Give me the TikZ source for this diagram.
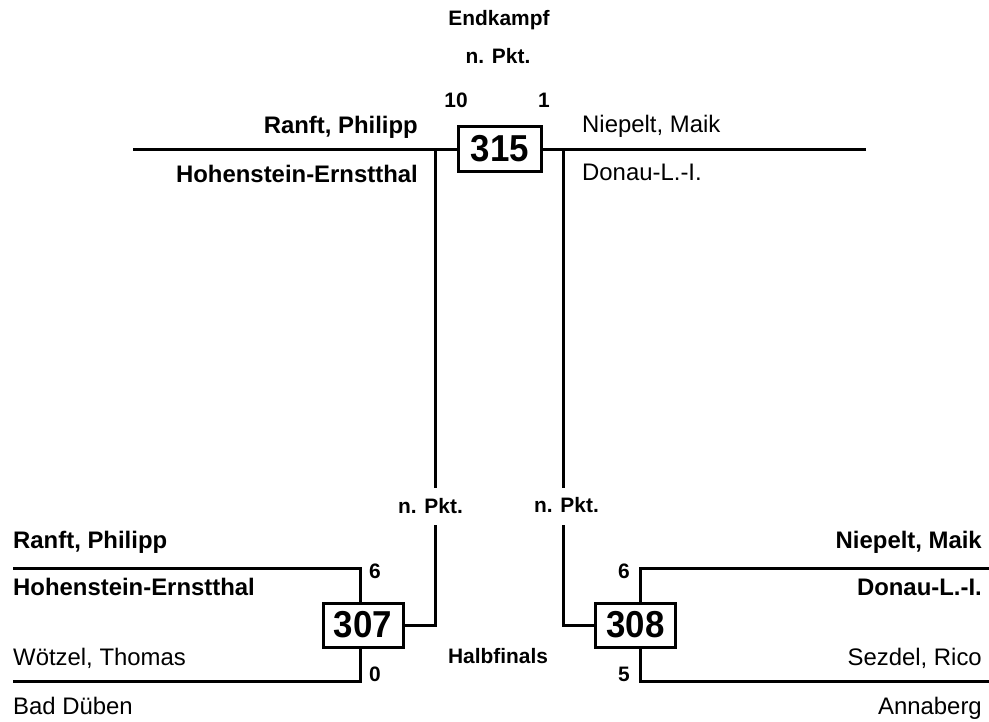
\documentclass[tikz,border=0pt]{standalone}
\usepackage{fontspec}
\setmainfont{Liberation Sans}
\newfontfamily\numfont{Liberation Sans}[FakeStretch=0.93]
\tikzset{
  ln/.style={line width=3pt},
  nm/.style={inner sep=0pt, font=\fontsize{23.9}{28}\selectfont},
  nmb/.style={inner sep=0pt, font=\fontsize{23.9}{28}\selectfont\bfseries},
  lbl/.style={inner sep=0pt, font=\fontsize{20.9}{25}\selectfont\bfseries},
  matchbox/.style={draw, line width=3pt, inner sep=0pt, minimum width=80pt, minimum height=44pt,
    font=\numfont\fontsize{37.5}{40}\selectfont\bfseries},
}
\begin{document}
\begin{tikzpicture}[x=1pt,y=-1pt]
\useasboundingbox (0,0) rectangle (989,721);
% ---------- final ----------
\node[matchbox, minimum width=83pt, minimum height=45pt] (m315) at (500,148.5) {315};
\node[lbl, anchor=base] (endk) at (499,25) {Endkampf};
\node[lbl, anchor=base] (npf) at (498,63) {n. Pkt.};
\node[lbl, anchor=base] (s10) at (456,107) {10};
\node[lbl, anchor=base] (s1) at (544,107) {1};
\node[nmb, anchor=base east] (fa1) at (418,133) {Ranft, Philipp};
\node[nmb, anchor=base east] (fa2) at (418,182) {Hohenstein-Ernstthal};
\node[nm, anchor=base west] (fb1) at (582,132) {Niepelt, Maik};
\node[nm, anchor=base west] (fb2) at (582,180) {Donau-L.-I.};
\coordinate (tl) at (133,149);
\coordinate (tr) at (866,149);
\draw[ln] (tl) -- (tl -| m315.west);
\draw[ln] (tr) -- (tr -| m315.east);
\coordinate (vl1) at (435,149);
\coordinate (vl2) at (435,488);
\coordinate (vr1) at (563,149);
\coordinate (vr2) at (563,488);
\draw[ln] (vl1) -- (vl2);
\draw[ln] (vr1) -- (vr2);
% ---------- semifinal 307 ----------
\node[matchbox] (m307) at (363,625) {307};
\node[lbl, anchor=base] (npl) at (430.5,513) {n. Pkt.};
\coordinate (vl3) at (435,525);
\draw[ln] (vl3) |- (m307);
\coordinate (la) at (13,568);
\coordinate (lat) at (360,602);
\coordinate (lb) at (13,681);
\coordinate (lbt) at (360,648);
\draw[ln] (la) -| (lat);
\draw[ln] (lb) -| (lbt);
\node[nmb, anchor=base west] (l1) at (13,548) {Ranft, Philipp};
\node[nmb, anchor=base west] (l2) at (13,595) {Hohenstein-Ernstthal};
\node[nm, anchor=base west] (l3) at (13,665) {Wötzel, Thomas};
\node[nm, anchor=base west] (l4) at (13,714) {Bad Düben};
\node[lbl, anchor=base] (ls6) at (375,578) {6};
\node[lbl, anchor=base] (ls0) at (375,681) {0};
\node[lbl, anchor=base] (halb) at (498,663) {Halbfinals};
% ---------- semifinal 308 ----------
\node[matchbox] (m308) at (635.5,625) {308};
\node[lbl, anchor=base] (npr) at (566.5,512) {n. Pkt.};
\coordinate (vr3) at (563,525);
\draw[ln] (vr3) |- (m308);
\coordinate (ra) at (989,568);
\coordinate (rat) at (640,602);
\coordinate (rb) at (989,681);
\coordinate (rbt) at (640,648);
\draw[ln] (ra) -| (rat);
\draw[ln] (rb) -| (rbt);
\node[nmb, anchor=base east] (r1) at (982,548) {Niepelt, Maik};
\node[nmb, anchor=base east] (r2) at (982,595) {Donau-L.-I.};
\node[nm, anchor=base east] (r3) at (982,665) {Sezdel, Rico};
\node[nm, anchor=base east] (r4) at (982,714) {Annaberg};
\node[lbl, anchor=base] (rs6) at (624,578) {6};
\node[lbl, anchor=base] (rs5) at (624,681) {5};
\end{tikzpicture}
\end{document}
